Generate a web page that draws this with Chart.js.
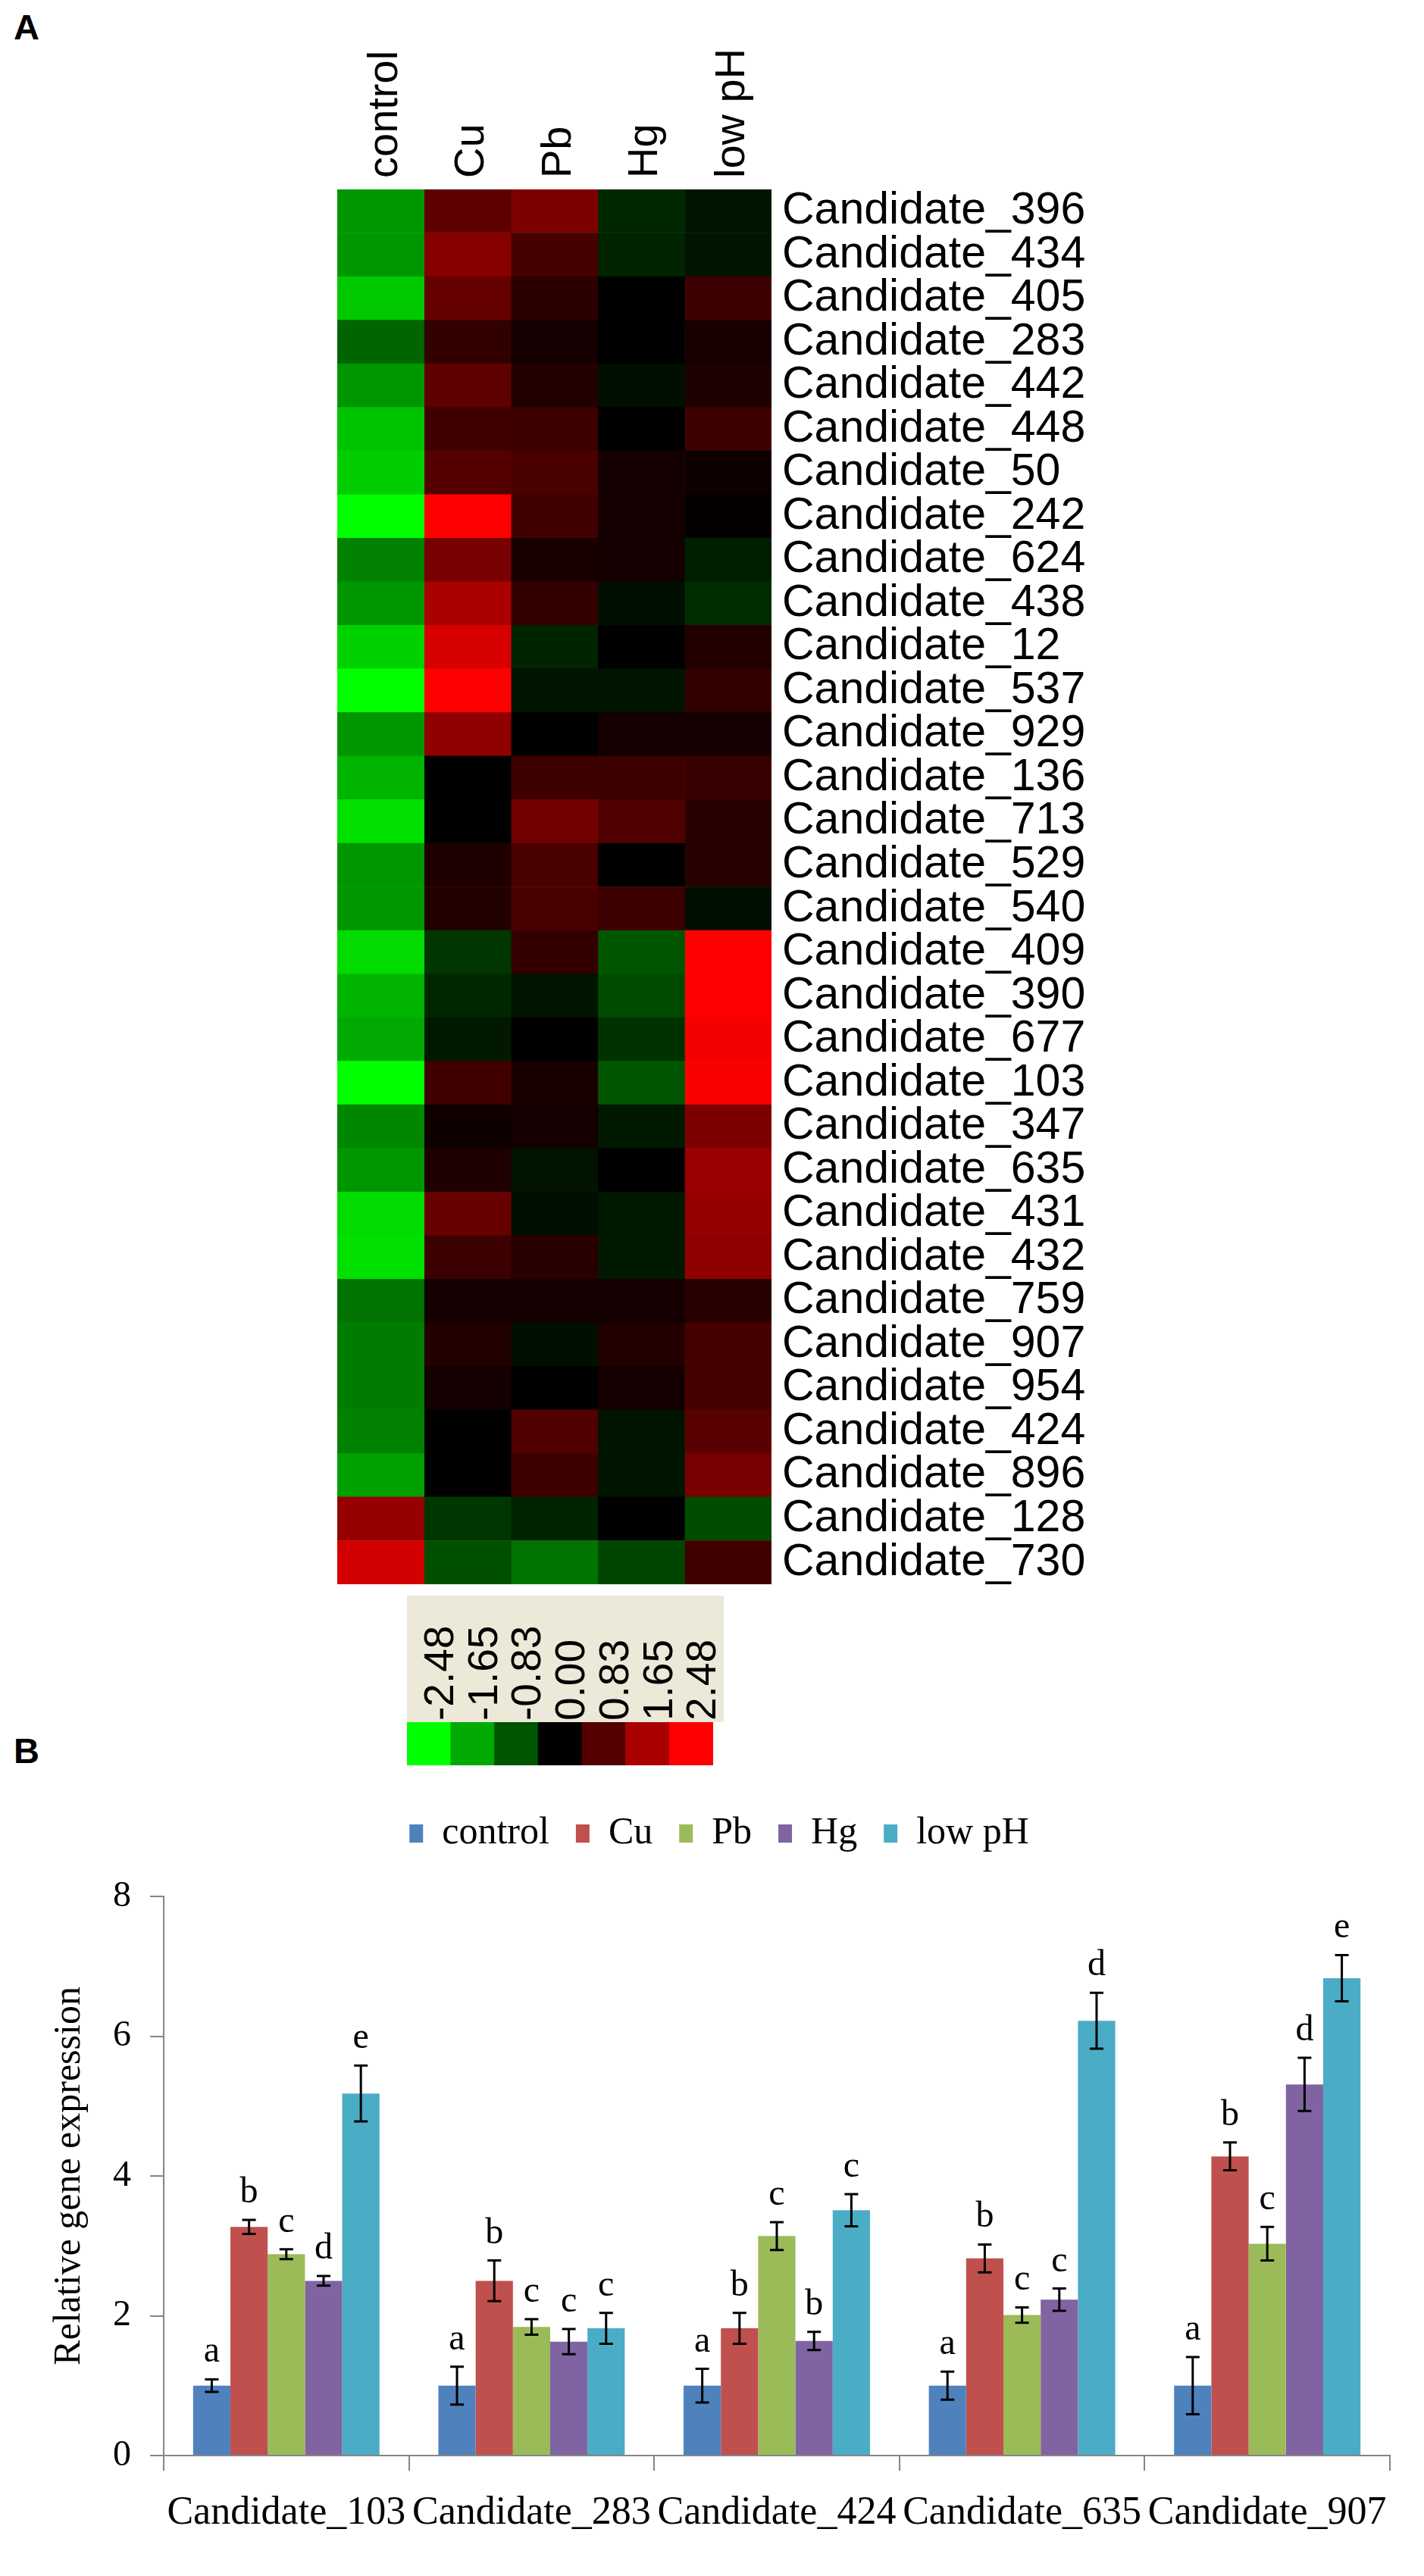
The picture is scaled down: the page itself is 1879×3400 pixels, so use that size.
<!DOCTYPE html>
<html>
<head>
<meta charset="utf-8">
<title>Candidate heat map and relative expression</title>
<script src="https://cdn.jsdelivr.net/npm/chart.js@4.4.1/dist/chart.umd.min.js"></script>
<style>
  body { margin: 0; background: #fff; }
  #page { position: relative; width: 1879px; height: 3400px; overflow: hidden; }
  canvas { position: absolute; }
  .panel { position: absolute; font: bold 47px "Liberation Sans", Arial, sans-serif; color: #000; }
</style>
</head>
<body>
<div id="page">
  <div class="panel" style="left:18px; top:8px;">A</div>
  <canvas id="heat" width="1060" height="2060" style="left:420px; top:40px;"></canvas>
  <canvas id="key" width="418" height="224" style="left:537px; top:2106px;"></canvas>
  <div class="panel" style="left:18px; top:2283px;">B</div>
  <canvas id="bars" width="1879" height="1040" style="left:0; top:2360px;"></canvas>
</div>
<script>
// conditions (columns of the heat map, series of the bar chart)
const treatments = ['control', 'Cu', 'Pb', 'Hg', 'low pH'];

// heat map rows, top to bottom
const candidates = ['Candidate_396', 'Candidate_434', 'Candidate_405', 'Candidate_283', 'Candidate_442',
  'Candidate_448', 'Candidate_50', 'Candidate_242', 'Candidate_624', 'Candidate_438', 'Candidate_12',
  'Candidate_537', 'Candidate_929', 'Candidate_136', 'Candidate_713', 'Candidate_529', 'Candidate_540',
  'Candidate_409', 'Candidate_390', 'Candidate_677', 'Candidate_103', 'Candidate_347', 'Candidate_635',
  'Candidate_431', 'Candidate_432', 'Candidate_759', 'Candidate_907', 'Candidate_954', 'Candidate_424',
  'Candidate_896', 'Candidate_128', 'Candidate_730'];

// log ratios
const heatControl = [-1.46, -1.46, -1.95, -0.97, -1.46, -1.9, -2.0, -2.48, -1.26, -1.46, -2.04,
  -2.48, -1.46, -1.75, -2.19, -1.46, -1.46, -2.14, -1.75, -1.65, -2.48, -1.31,
  -1.46, -2.14, -2.19, -1.12, -1.22, -1.22, -1.26, -1.56, 1.46, 2.04];
const heatCu = [0.92, 1.31, 0.97, 0.49, 0.92, 0.63, 0.83, 2.48, 1.17, 1.65, 2.09,
  2.48, 1.41, 0, 0, 0.29, 0.34, -0.53, -0.39, -0.24, 0.63, 0.15,
  0.29, 1.02, 0.58, 0.19, 0.34, 0.19, 0, 0, -0.53, -0.78];
const heatPb = [1.22, 0.68, 0.44, 0.19, 0.34, 0.58, 0.73, 0.63, 0.24, 0.49, -0.34,
  -0.19, 0, 0.58, 1.12, 0.73, 0.73, 0.49, -0.19, 0, 0.24, 0.19,
  -0.19, -0.15, 0.39, 0.19, -0.15, 0, 0.78, 0.58, -0.34, -1.12];
const heatHg = [-0.39, -0.34, 0, 0, -0.15, 0, 0.19, 0.19, 0.19, -0.15, 0,
  -0.19, 0.19, 0.58, 0.78, 0, 0.58, -0.83, -0.73, -0.49, -0.83, -0.24,
  0, -0.24, -0.24, 0.19, 0.34, 0.19, -0.19, -0.19, 0, -0.68];
const heatLowPH = [-0.19, -0.19, 0.58, 0.24, 0.29, 0.58, 0.15, 0.05, -0.29, -0.44, 0.34,
  0.49, 0.19, 0.53, 0.39, 0.39, -0.15, 2.48, 2.48, 2.38, 2.43, 1.22,
  1.51, 1.46, 1.41, 0.39, 0.68, 0.68, 0.87, 1.17, -0.73, 0.63];

// colour key
const keyValues = [-2.48, -1.65, -0.83, 0, 0.83, 1.65, 2.48];
const keyTicks = ['-2.48', '-1.65', '-0.83', '0.00', '0.83', '1.65', '2.48'];

// qPCR validation (panel B)
const genes = ['Candidate_103', 'Candidate_283', 'Candidate_424', 'Candidate_635', 'Candidate_907'];
const control = [1, 1, 1, 1, 1];
const cu = [3.27, 2.5, 1.82, 2.82, 4.28];
const pb = [2.88, 1.84, 3.14, 2.01, 3.03];
const hg = [2.5, 1.63, 1.64, 2.23, 5.31];
const lowPH = [5.18, 1.82, 3.51, 6.22, 6.83];
const controlErr = [0.09, 0.27, 0.24, 0.2, 0.41];
const cuErr = [0.1, 0.29, 0.22, 0.2, 0.2];
const pbErr = [0.07, 0.11, 0.2, 0.11, 0.24];
const hgErr = [0.07, 0.18, 0.13, 0.16, 0.38];
const lowPHErr = [0.4, 0.22, 0.23, 0.4, 0.33];
const controlSig = ['a', 'a', 'a', 'a', 'a'];
const cuSig = ['b', 'b', 'b', 'b', 'b'];
const pbSig = ['c', 'c', 'c', 'c', 'c'];
const hgSig = ['d', 'c', 'b', 'c', 'd'];
const lowPHSig = ['e', 'c', 'c', 'd', 'e'];

const SANS = "'Liberation Sans', Arial, sans-serif";
const SERIF = "'Liberation Serif', 'Times New Roman', serif";

// green - black - red
function heatColor(v) {
  const k = Math.round(Math.min(Math.abs(v), 2.48) / 2.48 * 255);
  return v < 0 ? 'rgb(0,' + k + ',0)' : 'rgb(' + k + ',0,0)';
}

// heat map: one stacked horizontal bar per row, one segment per condition
const heatSeries = [heatControl, heatCu, heatPb, heatHg, heatLowPH];
new Chart(document.getElementById('heat'), {
  type: 'bar',
  data: {
    labels: candidates,
    datasets: heatSeries.map((vals, i) => ({
      label: treatments[i],
      data: vals.map(() => 1),
      backgroundColor: vals.map(heatColor),
      borderWidth: 0,
      barPercentage: 1,
      categoryPercentage: 1
    }))
  },
  options: {
    indexAxis: 'y',
    responsive: false,
    animation: false,
    devicePixelRatio: 1,
    layout: { padding: { left: 25, right: 0, top: 0, bottom: 9 } },
    plugins: { legend: { display: false }, tooltip: { enabled: false } },
    scales: {
      x: { stacked: true, min: 0, max: 5, display: false },
      y: {
        stacked: true,
        position: 'right',
        grid: { display: false, drawTicks: false },
        border: { display: false },
        ticks: { autoSkip: false, color: '#000', padding: 14, font: { size: 59, family: SANS } },
        afterFit: s => { s.width = 462; s.paddingTop = 0; s.paddingBottom = 0; }
      },
      top: {
        type: 'category',
        labels: treatments,
        position: 'top',
        offset: true,
        grid: { display: false, drawTicks: false },
        border: { display: false },
        ticks: { autoSkip: false, minRotation: 90, maxRotation: 90, color: '#000', padding: 15,
          labelOffset: 73, font: { size: 56, family: SANS } },
        afterFit: s => { s.height = 210; s.paddingLeft = 0; s.paddingRight = 0; }
      }
    }
  }
});

// colour key with its beige label strip
new Chart(document.getElementById('key'), {
  type: 'bar',
  data: {
    labels: keyTicks,
    datasets: [{
      data: keyValues.map(() => 1),
      backgroundColor: keyValues.map(heatColor),
      borderWidth: 0,
      barPercentage: 1,
      categoryPercentage: 1
    }]
  },
  options: {
    responsive: false,
    animation: false,
    devicePixelRatio: 1,
    layout: { padding: { left: 0, right: 14 } },
    plugins: { legend: { display: false }, tooltip: { enabled: false } },
    scales: {
      x: {
        position: 'top',
        grid: { display: false, drawTicks: false },
        border: { display: false },
        ticks: { autoSkip: false, minRotation: 90, maxRotation: 90, color: '#000', padding: 2,
          labelOffset: 83, font: { size: 55, family: SANS } },
        afterFit: s => { s.height = 167; s.paddingLeft = 0; s.paddingRight = 0; }
      },
      y: { display: false, min: 0, max: 1 }
    }
  },
  plugins: [{
    id: 'beige',
    beforeDraw(chart) {
      const ctx = chart.ctx;
      ctx.save();
      ctx.fillStyle = '#ECE9D8';
      ctx.fillRect(0, 0, chart.width, chart.chartArea.top);
      ctx.restore();
    }
  }]
});

// bar chart with error bars and letters
const barSeries = [control, cu, pb, hg, lowPH];
const barErrors = [controlErr, cuErr, pbErr, hgErr, lowPHErr];
const barLetters = [controlSig, cuSig, pbSig, hgSig, lowPHSig];
const barColors = ['#4F81BD', '#C0504D', '#9BBB59', '#8064A2', '#4BACC6'];

const errorBars = {
  id: 'errorBars',
  afterDatasetsDraw(chart) {
    const ctx = chart.ctx;
    const y = chart.scales.y;
    ctx.save();
    chart.data.datasets.forEach((ds, i) => {
      chart.getDatasetMeta(i).data.forEach((bar, j) => {
        const v = ds.data[j], e = barErrors[i][j];
        const top = y.getPixelForValue(v + e);
        const bot = y.getPixelForValue(v - e);
        ctx.strokeStyle = '#000';
        ctx.lineWidth = 3;
        ctx.beginPath();
        ctx.moveTo(bar.x, top); ctx.lineTo(bar.x, bot);
        ctx.moveTo(bar.x - 9, top); ctx.lineTo(bar.x + 9, top);
        ctx.moveTo(bar.x - 9, bot); ctx.lineTo(bar.x + 9, bot);
        ctx.stroke();
        ctx.fillStyle = '#000';
        ctx.font = '48px ' + SERIF;
        ctx.textAlign = 'center';
        ctx.textBaseline = 'alphabetic';
        ctx.fillText(barLetters[i][j], bar.x, top - 23);
      });
    });
    ctx.restore();
  }
};

// extra room between legend and plot
const legendGap = {
  id: 'legendGap',
  beforeLayout(chart) {
    const lg = chart.legend;
    if (lg && !lg._gap) {
      const fit = lg.fit.bind(lg);
      lg.fit = function () { fit(); this.height += 48; };
      lg._gap = true;
    }
  }
};

new Chart(document.getElementById('bars'), {
  type: 'bar',
  data: {
    labels: genes,
    datasets: barSeries.map((vals, i) => ({
      label: treatments[i],
      data: vals,
      backgroundColor: barColors[i],
      borderWidth: 0,
      barPercentage: 1,
      categoryPercentage: 0.76
    }))
  },
  options: {
    responsive: false,
    animation: false,
    devicePixelRatio: 1,
    layout: { padding: { left: 64, right: 45, top: 0, bottom: 0 } },
    plugins: {
      tooltip: { enabled: false },
      legend: {
        position: 'top',
        labels: { boxWidth: 18, boxHeight: 24, padding: 35, color: '#000', font: { size: 50, family: SERIF } }
      }
    },
    scales: {
      x: {
        grid: { drawOnChartArea: false, tickLength: 20, color: '#868686', lineWidth: 2 },
        border: { color: '#868686', width: 2 },
        ticks: { autoSkip: false, maxRotation: 0, color: '#000', padding: 25, font: { size: 52, family: SERIF } },
        afterFit: s => { s.height = 159; s.paddingLeft = 0; s.paddingRight = 0; }
      },
      y: {
        min: 0,
        max: 8,
        grid: { drawOnChartArea: false, tickLength: 18, color: '#868686', lineWidth: 2 },
        border: { color: '#868686', width: 2 },
        ticks: { stepSize: 2, color: '#000', padding: 25, font: { size: 48, family: SERIF } },
        title: { display: true, text: 'Relative gene expression', color: '#000', padding: 0,
          font: { size: 50, family: SERIF, lineHeight: 1.1 } },
        afterFit: s => { s.width = 152; }
      }
    }
  },
  plugins: [errorBars, legendGap]
});
</script>
</body>
</html>
